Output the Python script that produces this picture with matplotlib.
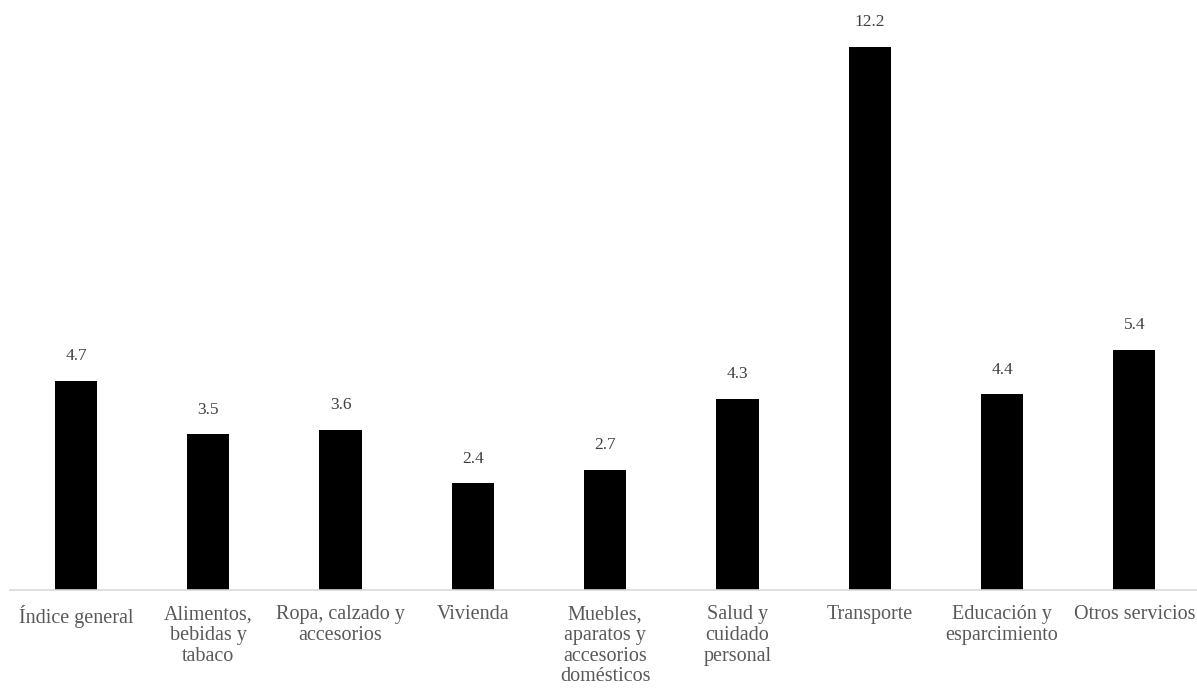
import matplotlib
matplotlib.use("Agg")
import matplotlib.pyplot as plt

categories = [
    "Índice general",
    "Alimentos,\nbebidas y\ntabaco",
    "Ropa, calzado y\naccesorios",
    "Vivienda",
    "Muebles,\naparatos y\naccesorios\ndomésticos",
    "Salud y\ncuidado\npersonal",
    "Transporte",
    "Educación y\nesparcimiento",
    "Otros servicios",
]
values = [4.7, 3.5, 3.6, 2.4, 2.7, 4.3, 12.2, 4.4, 5.4]

plt.rcParams["font.family"] = ["Liberation Serif", "DejaVu Serif"]

fig = plt.figure(figsize=(11.97, 6.95), dpi=100)
ax = fig.add_axes([0.0082, 1 - 590 / 695, 0.9947, 590 / 695])

x = range(len(categories))
ax.bar(x, values, width=0.32, color="black")

for xi, v in zip(x, values):
    ax.annotate(f"{v:.1f}", (xi, v), xytext=(0, 12), textcoords="offset points",
                ha="center", va="bottom", fontsize=12.5, color="#404040")

ax.set_xlim(-0.5, len(categories) - 0.5)
ax.set_ylim(0, 13.26)
ax.set_xticks(list(x))
ax.set_xticklabels(categories, fontsize=14.5, color="#595959", linespacing=1.12)
ax.tick_params(axis="x", length=0, pad=11)
ax.set_yticks([])
for s in ["top", "right", "left"]:
    ax.spines[s].set_visible(False)
ax.spines["bottom"].set_color("#D9D9D9")
ax.spines["bottom"].set_linewidth(1.2)

fig.savefig("out.png", dpi=100)
